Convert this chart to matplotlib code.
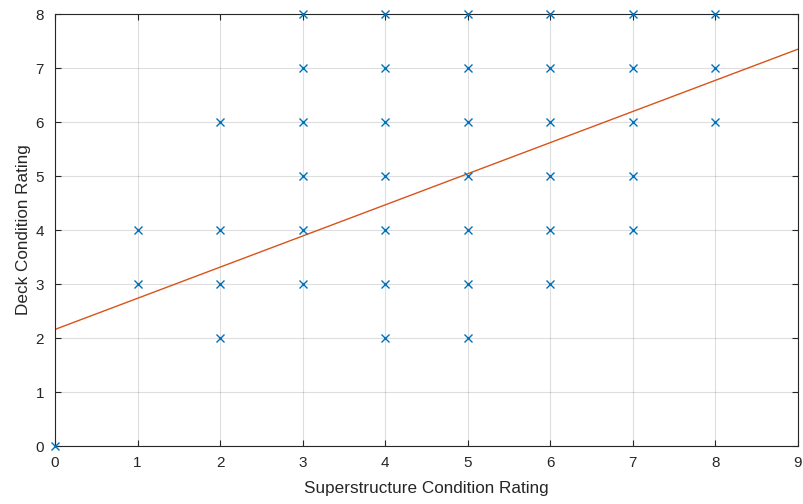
import matplotlib
matplotlib.use("Agg")
import matplotlib.pyplot as plt
import numpy as np

plt.rcParams['font.family'] = ['Liberation Sans', 'DejaVu Sans']

# Data points (superstructure rating, deck rating)
super_x = [0, 1, 1, 2, 2, 2, 2,
           3, 3, 3, 3, 3, 3,
           4, 4, 4, 4, 4, 4, 4,
           5, 5, 5, 5, 5, 5, 5,
           6, 6, 6, 6, 6, 6,
           7, 7, 7, 7, 7,
           8, 8, 8]
deck_y = [0, 3, 4, 2, 3, 4, 6,
          3, 4, 5, 6, 7, 8,
          2, 3, 4, 5, 6, 7, 8,
          2, 3, 4, 5, 6, 7, 8,
          3, 4, 5, 6, 7, 8,
          4, 5, 6, 7, 8,
          6, 7, 8]
# Fit line endpoints
fit_x = [0, 9]
fit_y = [2.16, 7.35]

fig = plt.figure(figsize=(8.04, 5.04), dpi=100)
ax = fig.add_axes([0.0684, 0.115, 0.924, 0.857])

ax.plot(super_x, deck_y, 'x', color='#0072BD', markersize=5.5, markeredgewidth=1.0,
        linestyle='none', clip_on=False, zorder=3)
ax.plot(fit_x, fit_y, '-', color='#D95319', linewidth=1.0, zorder=2)

ax.set_xlim(0, 9)
ax.set_ylim(0, 8)
ax.set_xticks(range(0, 10))
ax.set_yticks(range(0, 9))
ax.grid(True, color='#262626', alpha=0.15, linewidth=0.8)
ax.set_axisbelow(True)
for s in ax.spines.values():
    s.set_color('#262626')
    s.set_linewidth(0.8)
ax.tick_params(direction='in', colors='#262626', labelsize=11, length=4, top=True, right=True,
               labeltop=False, labelright=False)
ax.tick_params(axis='x', pad=7)
ax.tick_params(axis='y', pad=8)
ax.set_xlabel('Superstructure Condition Rating', fontsize=12.3, color='#262626', labelpad=8)
ax.set_ylabel('Deck Condition Rating', fontsize=12.3, color='#262626', labelpad=3)

fig.savefig('out.png', dpi=100)
